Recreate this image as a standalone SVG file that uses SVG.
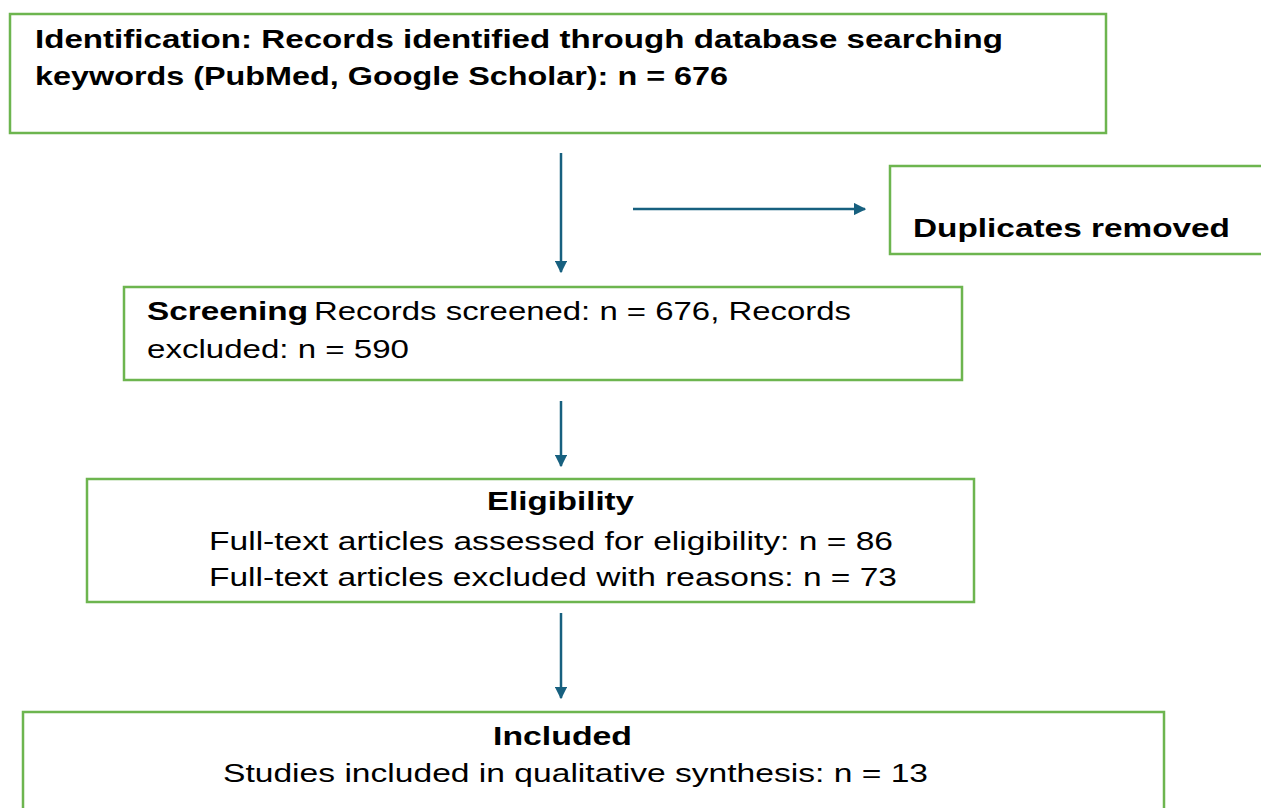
<svg xmlns="http://www.w3.org/2000/svg" width="1261" height="808" viewBox="0 0 1261 808">
<defs>
<marker id="ah" viewBox="0 0 10 10" refX="9" refY="5" markerWidth="5" markerHeight="5" orient="auto" markerUnits="strokeWidth">
<path d="M0,0 L10,5 L0,10 z" fill="#17607f"/>
</marker>
<style>
.box{fill:#fff;stroke:#6db54f;stroke-width:2.5}
.b{font-family:"Liberation Sans",Arial,sans-serif;font-weight:bold;font-size:26px;fill:#000}
.r{font-family:"Liberation Sans",Arial,sans-serif;font-size:26px;fill:#000}
.c{stroke:#17607f;stroke-width:2.5;fill:none;marker-end:url(#ah)}
</style>
</defs>
<rect width="1261" height="808" fill="#fff"/>
<g id="identification">
<rect class="box" x="10" y="14" width="1096" height="119"/>
<text class="b" x="35" y="48" textLength="968" lengthAdjust="spacingAndGlyphs">Identification: Records identified through database searching</text>
<text class="b" x="35" y="85" textLength="693" lengthAdjust="spacingAndGlyphs">keywords (PubMed, Google Scholar): n = 676</text>
</g>
<g id="duplicates">
<rect class="box" x="890" y="166" width="380" height="88"/>
<text class="b" x="913" y="237" textLength="317" lengthAdjust="spacingAndGlyphs">Duplicates removed</text>
</g>
<g id="screening">
<rect class="box" x="124" y="287" width="838" height="93"/>
<text class="b" x="147" y="320" textLength="161" lengthAdjust="spacingAndGlyphs">Screening</text>
<text class="r" x="314" y="320" textLength="537" lengthAdjust="spacingAndGlyphs">Records screened: n = 676, Records</text>
<text class="r" x="147" y="358" textLength="262" lengthAdjust="spacingAndGlyphs">excluded: n = 590</text>
</g>
<g id="eligibility">
<rect class="box" x="87" y="479" width="887" height="123"/>
<text class="b" x="487" y="510" textLength="147" lengthAdjust="spacingAndGlyphs">Eligibility</text>
<text class="r" x="209" y="550" textLength="684" lengthAdjust="spacingAndGlyphs">Full-text articles assessed for eligibility: n = 86</text>
<text class="r" x="209" y="586" textLength="688" lengthAdjust="spacingAndGlyphs">Full-text articles excluded with reasons: n = 73</text>
</g>
<g id="included">
<rect class="box" x="23" y="712" width="1141" height="110"/>
<text class="b" x="493" y="745" textLength="139" lengthAdjust="spacingAndGlyphs">Included</text>
<text class="r" x="223" y="782" textLength="705" lengthAdjust="spacingAndGlyphs">Studies included in qualitative synthesis: n = 13</text>
</g>
<g id="connectors">
<line class="c" x1="561" y1="153" x2="561" y2="272"/>
<line class="c" x1="633" y1="209" x2="865" y2="209"/>
<line class="c" x1="561" y1="401" x2="561" y2="466"/>
<line class="c" x1="561" y1="613" x2="561" y2="698"/>
</g>
</svg>
